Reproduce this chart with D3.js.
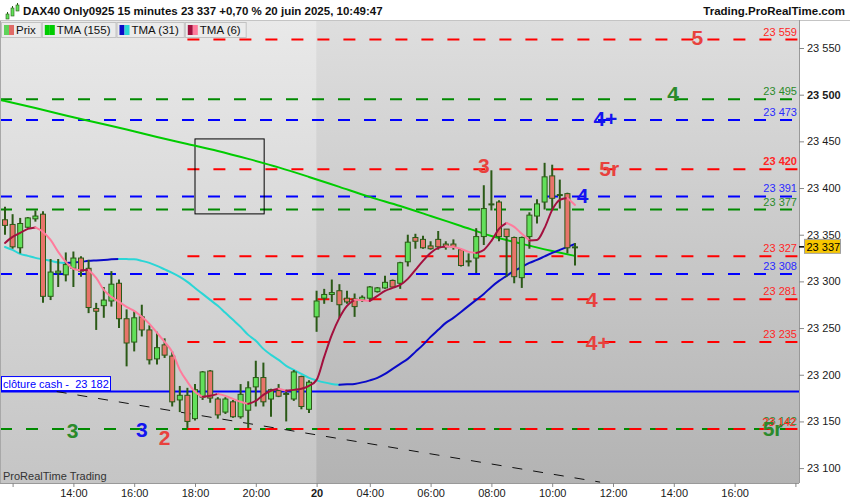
<!DOCTYPE html>
<html>
<head>
<meta charset="utf-8">
<script src="https://cdnjs.cloudflare.com/ajax/libs/d3/7.8.5/d3.min.js"></script>
<style>
  body { margin: 0; background: #fff; }
  svg { display: block; font-family: Arial, "Liberation Sans", sans-serif; }
</style>
</head>
<body>
<svg id="chart" width="850" height="500"></svg>
<script>
// DAX40 15 min candles, bar 0 = 19 juin 11:45, bar 41 = first bar of 20 juin

let opens = [23366, 23361, 23336, 23358, 23367, 23372, 23284, 23309, 23307, 23314,
  23325, 23314, 23271, 23274, 23279, 23298, 23260, 23235, 23262, 23248,
  23217, 23232, 23220, 23173, 23178, 23153, 23176, 23204, 23174, 23160,
  23171, 23155, 23162, 23187, 23197, 23174, 23183, 23180, 23174, 23198,
  23163, 23262, 23282, 23286, 23290, 23282, 23281, 23280, 23282, 23289,
  23293, 23301, 23298, 23321, 23347, 23345, 23338, 23345, 23340, 23340,
  23334, 23322, 23325, 23348, 23383, 23385, 23356, 23347, 23304, 23348,
  23370, 23385, 23413, 23393, 23394, 23337]
let highs = [23380, 23372, 23368, 23369, 23376, 23375, 23324, 23324, 23331, 23332,
  23327, 23323, 23277, 23294, 23311, 23302, 23270, 23268, 23275, 23253,
  23246, 23239, 23225, 23188, 23186, 23190, 23204, 23205, 23176, 23176,
  23173, 23190, 23193, 23215, 23213, 23185, 23190, 23184, 23205, 23199,
  23194, 23290, 23292, 23302, 23297, 23290, 23287, 23285, 23295, 23294,
  23306, 23302, 23321, 23350, 23351, 23349, 23343, 23354, 23343, 23345,
  23335, 23330, 23357, 23403, 23419, 23387, 23356, 23348, 23348, 23374,
  23388, 23427, 23425, 23409, 23395, 23341]
let lows = [23350, 23335, 23330, 23357, 23364, 23277, 23280, 23294, 23300, 23294,
  23305, 23266, 23248, 23261, 23273, 23250, 23209, 23225, 23241, 23211,
  23211, 23218, 23166, 23160, 23143, 23151, 23173, 23170, 23153, 23158,
  23154, 23153, 23143, 23166, 23166, 23155, 23176, 23150, 23172, 23163,
  23159, 23246, 23276, 23278, 23261, 23276, 23262, 23278, 23280, 23288,
  23292, 23293, 23292, 23316, 23335, 23335, 23334, 23334, 23334, 23334,
  23316, 23316, 23309, 23339, 23376, 23343, 23305, 23298, 23293, 23335,
  23362, 23377, 23377, 23378, 23330, 23317]
let closes = [23360, 23337, 23362, 23368, 23370, 23284, 23310, 23311, 23318, 23325,
  23311, 23272, 23268, 23280, 23297, 23260, 23234, 23261, 23248, 23216,
  23229, 23221, 23171, 23178, 23150, 23184, 23203, 23175, 23157, 23174,
  23155, 23179, 23186, 23197, 23171, 23184, 23177, 23179, 23203, 23166,
  23192, 23279, 23286, 23288, 23275, 23278, 23273, 23283, 23294, 23293,
  23299, 23294, 23320, 23342, 23343, 23336, 23335, 23337, 23337, 23337,
  23317, 23321, 23348, 23378, 23382, 23348, 23348, 23305, 23347, 23371,
  23383, 23412, 23389, 23393, 23336, 23337]

// moving averages, one value per bar
let tma6 = [23341.2, 23347.6, 23351.9, 23356.2, 23357.8, 23353.0, 23344.4, 23331.6, 23320.9, 23313.4,
  23311.8, 23312.3, 23303.7, 23290.9, 23283.4, 23278.0, 23272.7, 23268.4, 23262.0, 23254.5,
  23244.9, 23235.2, 23224.5, 23205.2, 23192.4, 23181.7, 23176.3, 23177.4, 23179.5, 23177.4,
  23174.2, 23171.0, 23168.8, 23172.1, 23178.5, 23182.8, 23184.9, 23182.8, 23183.8, 23184.9,
  23188.1, 23194.5, 23219.2, 23242.7, 23260.9, 23273.8, 23280.2, 23279.7, 23279.1, 23284.5,
  23289.8, 23293.0, 23296.2, 23302.7, 23312.3, 23322.0, 23330.5, 23335.9, 23337.5, 23336.9,
  23334.8, 23331.6, 23330.5, 23333.7, 23343.4, 23356.2, 23362.6, 23358.4, 23350.9, 23343.9,
  23344.4, 23357.3, 23376.6, 23387.3, 23389.4, 23381.9]
let tma31 = [23336.9, 23333.7, 23329.4, 23327.3, 23325.2, 23323.6, 23322.0, 23320.3, 23319.8, 23320.3,
  23320.9, 23322.0, 23322.5, 23323.0, 23323.6, 23324.1, 23323.9, 23323.6, 23322.0, 23319.8,
  23316.6, 23312.9, 23309.1, 23304.8, 23299.5, 23293.0, 23286.6, 23280.2, 23273.8, 23266.3,
  23258.8, 23251.3, 23242.7, 23236.3, 23227.7, 23221.3, 23215.9, 23209.5, 23205.2, 23200.9,
  23196.7, 23194.0, 23191.8, 23190.2, 23189.2, 23189.7, 23190.2, 23191.8, 23194.0, 23196.7,
  23200.9, 23206.3, 23211.7, 23217.0, 23224.5, 23232.0, 23240.6, 23248.1, 23255.6, 23260.9,
  23267.3, 23273.8, 23280.2, 23286.6, 23294.1, 23300.5, 23305.9, 23311.3, 23315.5, 23319.8,
  23323.0, 23326.8, 23330.5, 23333.7, 23336.9, 23340.1]
// TMA 155 read every 4 bars
let tma155Bars = [0, 4, 8, 12, 16, 20, 24, 28, 32, 36, 40, 44, 48, 52, 56, 60, 64, 68, 72, 75]
let tma155 = [23493.3, 23485.8, 23477.7, 23470.2, 23462.7, 23454.7, 23447.2, 23439.7, 23431.2, 23422.1,
  23411.9, 23401.2, 23390.5, 23380.8, 23370.1, 23359.4, 23348.7, 23340.2, 23332.6, 23327.3]

// horizontal levels (r = red, g = green, b = blue)
let levelPrices = [23559, 23495, 23473, 23420, 23391, 23377, 23327, 23308, 23281, 23235, 23142, 23142]
let levelKinds = ['r', 'g', 'b', 'r', 'b', 'g', 'r', 'b', 'r', 'r', 'g', 'r']
let redFromBar = 24

// big level tags
let tagTexts = ['5', '4', '4+', '5r', '3', '4', '4', '4+', '3', '3', '2', '5r']
let tagKinds = ['r', 'g', 'b', 'r', 'r', 'b', 'r', 'r', 'g', 'b', 'r', 'g']
let tagBars = [91.1, 87.9, 79.0, 79.5, 63.0, 76.0, 77.2, 78.0, 8.9, 18.0, 21.0, 101.0]
let tagPrices = [23561, 23501, 23475, 23421, 23424, 23392, 23281, 23235, 23140, 23141, 23133, 23143]

let cashClose = 23182
let lastPrice = 23337
let trendBars = [6.8, 78.3]
let trendPrices = [23182, 23085]
let boxBars = [25, 34.1]
let boxPrices = [23452.6, 23372.3]

let sessionStartBar = 41
let xTickBars = [1, 9, 17, 25, 33, 41, 48, 56, 64, 72, 80, 88, 96, 104]
let xTickLabels = ['', '14:00', '16:00', '18:00', '20:00', '20', '04:00', '06:00', '08:00', '10:00', '12:00', '14:00', '16:00', '']
let yTicks = [23100, 23150, 23200, 23250, 23300, 23350, 23400, 23450, 23500, 23550]

// layout
let W = 850, H = 500
let plot = { left: 0, right: 799, top: 20, bottom: 483 }
let colors = {
  r: '#ff0000', g: '#008a00', b: '#0000ff',
  tag: { r: '#e8413d', g: '#2b8a2b', b: '#1414f0' },
  val: { r: '#ff2626', g: '#2b8a2b', b: '#2a2aff' }
}

let x = d3.scaleLinear().domain([0, 104]).range([5, 5 + 104 * 7.6])
let y = d3.scaleLinear().domain([23100, 23550]).range([468.1, 48])

let svg = d3.select('#chart')
let defs = svg.append('defs')

function grad(id, top, bottom) {
  let g = defs.append('linearGradient').attr('id', id)
    .attr('x1', 0).attr('y1', 0).attr('x2', 0).attr('y2', 1)
  g.append('stop').attr('offset', '0%').attr('stop-color', top)
  g.append('stop').attr('offset', '100%').attr('stop-color', bottom)
}
grad('bgOld', '#e9e9e9', '#c5c5c5')
grad('bgNew', '#dedede', '#b3b3b3')

defs.append('clipPath').attr('id', 'plotClip')
  .append('rect')
  .attr('x', plot.left).attr('y', plot.top)
  .attr('width', plot.right - plot.left).attr('height', plot.bottom - plot.top)

// backgrounds
let split = x(sessionStartBar) - 0.5
svg.append('rect').attr('x', plot.left).attr('y', plot.top)
  .attr('width', split - plot.left).attr('height', plot.bottom - plot.top)
  .attr('fill', 'url(#bgOld)')
svg.append('rect').attr('x', split).attr('y', plot.top)
  .attr('width', plot.right - split).attr('height', plot.bottom - plot.top)
  .attr('fill', 'url(#bgNew)')

let g = svg.append('g').attr('clip-path', 'url(#plotClip)')

// levels
let levels = levelPrices.map((p, i) => ({ price: p, kind: levelKinds[i] }))
g.selectAll('line.level')
  .data(levels)
  .join('line')
  .attr('class', 'level')
  .attr('x1', d => d.kind === 'r' ? x(redFromBar) : plot.left)
  .attr('x2', plot.right)
  .attr('y1', d => y(d.price))
  .attr('y2', d => y(d.price))
  .attr('stroke', d => colors[d.kind])
  .attr('stroke-width', 2)
  .attr('stroke-dasharray', '12,14')

// cash close line
g.append('line')
  .attr('x1', plot.left).attr('x2', plot.right)
  .attr('y1', y(cashClose)).attr('y2', y(cashClose))
  .attr('stroke', '#0000ff').attr('stroke-width', 2)

// trend line
g.append('line')
  .attr('x1', x(trendBars[0])).attr('y1', y(trendPrices[0]))
  .attr('x2', x(trendBars[1])).attr('y2', y(trendPrices[1]))
  .attr('stroke', '#111').attr('stroke-width', 1)
  .attr('stroke-dasharray', '10,11')

// drawn rectangle
g.append('rect')
  .attr('x', x(boxBars[0])).attr('y', y(boxPrices[0]))
  .attr('width', x(boxBars[1]) - x(boxBars[0]))
  .attr('height', y(boxPrices[1]) - y(boxPrices[0]))
  .attr('fill', 'none').attr('stroke', '#000').attr('stroke-width', 1)

// two-colour moving averages: dark when rising, light when falling
function drawTwoTone(values, upColor, downColor) {
  let runs = []
  for (let i = 1; i < values.length; i++) {
    let up = values[i] >= values[i - 1]
    let last = runs[runs.length - 1]
    if (last && last.up === up) last.pts.push(i)
    else runs.push({ up: up, pts: [i - 1, i] })
  }
  let line = d3.line().x(i => x(i)).y(i => y(values[i])).curve(d3.curveMonotoneX)
  g.selectAll(null)
    .data(runs)
    .join('path')
    .attr('d', d => line(d.pts))
    .attr('fill', 'none')
    .attr('stroke', d => d.up ? upColor : downColor)
    .attr('stroke-width', 2)
    .attr('stroke-linecap', 'round')
}

g.append('path')
  .attr('d', d3.line().x((b, i) => x(b)).y((b, i) => y(tma155[i])).curve(d3.curveMonotoneX)(tma155Bars))
  .attr('fill', 'none')
  .attr('stroke', '#00cc00')
  .attr('stroke-width', 2)
// extend green to the left edge
g.append('line')
  .attr('x1', plot.left).attr('y1', y(tma155[0]) - 1)
  .attr('x2', x(0)).attr('y2', y(tma155[0]))
  .attr('stroke', '#00cc00').attr('stroke-width', 2)

drawTwoTone(tma31, '#0a0ac8', '#2ad6d6')

// candles
let bars = opens.map((o, i) => ({ i: i, o: o, h: highs[i], l: lows[i], c: closes[i] }))
let candle = g.selectAll('g.candle')
  .data(bars)
  .join('g')
  .attr('class', 'candle')
candle.append('line')
  .attr('x1', d => x(d.i)).attr('x2', d => x(d.i))
  .attr('y1', d => y(d.h)).attr('y2', d => y(d.l))
  .attr('stroke', '#2b5a17').attr('stroke-width', 2)
candle.append('rect')
  .attr('x', d => x(d.i) - 2.5)
  .attr('width', 5)
  .attr('y', d => y(Math.max(d.o, d.c)))
  .attr('height', d => Math.max(1, Math.abs(y(d.o) - y(d.c))))
  .attr('fill', d => d.c >= d.o ? '#62e05a' : '#e8746a')
  .attr('stroke', '#2b5a17')
  .attr('stroke-width', 1)

drawTwoTone(tma6, '#a3103e', '#ff7b9c')

// level value labels
let valueLabels = levels.map((d, i) => ({ price: d.price, kind: d.kind, i: i }))
g.selectAll('text.value')
  .data(valueLabels)
  .join('text')
  .attr('class', 'value')
  .attr('x', d => d.i === levels.length - 1 ? plot.right - 3 : plot.right - 2)
  .attr('y', d => y(d.price) - 4 + (d.i === levels.length - 1 ? 1 : 0))
  .attr('text-anchor', 'end')
  .attr('font-size', 11)
  .attr('font-weight', d => d.price === 23420 ? 'bold' : 'normal')
  .attr('fill', d => colors.val[d.kind])
  .text(d => fmt(d.price))

// big tags
let tags = tagTexts.map((t, i) => ({ text: t, kind: tagKinds[i], bar: tagBars[i], price: tagPrices[i] }))
g.selectAll('text.tag')
  .data(tags)
  .join('text')
  .attr('class', 'tag')
  .attr('x', d => x(d.bar))
  .attr('y', d => y(d.price))
  .attr('dy', '0.36em')
  .attr('text-anchor', 'middle')
  .attr('font-size', 21)
  .attr('font-weight', 'bold')
  .attr('fill', d => colors.tag[d.kind])
  .text(d => d.text)

// cash close box
let cashY = y(cashClose)
svg.append('rect')
  .attr('x', 1.5).attr('y', cashY - 15)
  .attr('width', 109).attr('height', 14)
  .attr('fill', '#fff').attr('stroke', '#0000ff').attr('stroke-width', 1)
svg.append('text')
  .attr('x', 3).attr('y', cashY - 4)
  .attr('font-size', 11).attr('fill', '#0000ff')
  .style('white-space', 'pre')
  .text('clôture cash -  ' + fmt(cashClose))

svg.append('text')
  .attr('x', 3).attr('y', 480)
  .attr('font-size', 11).attr('fill', '#333')
  .text('ProRealTime Trading')

// frame
svg.append('line').attr('x1', 0.5).attr('x2', 0.5).attr('y1', plot.top).attr('y2', plot.bottom)
  .attr('stroke', '#a8a8a8')
svg.append('line').attr('x1', 0).attr('x2', W).attr('y1', plot.top + 0.5).attr('y2', plot.top + 0.5)
  .attr('stroke', '#c4c4c4')

// right axis
function fmt(v) {
  return Math.floor(v / 1000) + ' ' + String(v % 1000).padStart(3, '0')
}
let yAxis = svg.append('g')
  .attr('transform', `translate(${plot.right},0)`)
  .call(d3.axisRight(y).tickValues(yTicks).tickSize(5).tickPadding(3).tickFormat(fmt))
yAxis.select('.domain').attr('stroke', '#999').attr('d', `M0.5,${plot.top}V${plot.bottom}`)
yAxis.selectAll('.tick line').attr('stroke', '#888')
yAxis.selectAll('.tick text')
  .attr('font-size', 11)
  .attr('font-family', 'Arial, "Liberation Sans", sans-serif')
  .attr('fill', '#1a1a1a')
  .attr('font-weight', d => d % 500 === 0 ? 'bold' : 'normal')

// last price tag
let lastY = y(lastPrice)
svg.append('line').attr('x1', plot.right).attr('x2', plot.right + 5)
  .attr('y1', lastY).attr('y2', lastY).attr('stroke', '#000').attr('stroke-width', 1.5)
svg.append('rect')
  .attr('x', plot.right + 5.5).attr('y', lastY - 7.5)
  .attr('width', 36).attr('height', 14)
  .attr('fill', '#f7c600').attr('stroke', '#a0a0a0')
svg.append('text')
  .attr('x', plot.right + 7.5).attr('y', lastY + 4)
  .attr('font-size', 11).attr('fill', '#000')
  .text(fmt(lastPrice))

// bottom axis
let xAxis = svg.append('g')
  .attr('transform', `translate(0,${plot.bottom})`)
  .call(d3.axisBottom(x).tickValues(xTickBars).tickSize(4).tickPadding(2)
    .tickFormat((d, i) => xTickLabels[i]))
xAxis.select('.domain').attr('stroke', '#999').attr('d', `M0,0.5H${plot.right}`)
xAxis.selectAll('.tick line').attr('stroke', '#888')
xAxis.selectAll('.tick text')
  .attr('font-size', 11)
  .attr('font-family', 'Arial, "Liberation Sans", sans-serif')
  .attr('fill', '#1a1a1a')
  .attr('font-weight', (d, i) => xTickLabels[i] === '20' ? 'bold' : 'normal')

// header
svg.append('rect').attr('x', 0).attr('y', 0).attr('width', W).attr('height', plot.top)
  .attr('fill', '#fff')
let icon = svg.append('g').attr('transform', 'translate(5,3)')
let iconBars = [[1, 9, 14, 11, 5], [6, 3, 12, 5, 8], [11, 0, 8, 2, 6]]
iconBars.forEach(b => {
  icon.append('line').attr('x1', b[0] + 1.5).attr('x2', b[0] + 1.5).attr('y1', b[1]).attr('y2', b[2])
    .attr('stroke', '#2b5a17').attr('stroke-width', 1)
  icon.append('rect').attr('x', b[0]).attr('y', b[3]).attr('width', 3).attr('height', b[4])
    .attr('fill', '#62e05a').attr('stroke', '#2b5a17').attr('stroke-width', 0.6)
})
svg.append('text')
  .attr('x', 23).attr('y', 15)
  .attr('font-size', 11.5).attr('font-weight', 'bold').attr('fill', '#111')
  .text('DAX40 Only0925 15 minutes 23 337 +0,70 % 20 juin 2025, 10:49:47')
svg.append('text')
  .attr('x', 845).attr('y', 15)
  .attr('text-anchor', 'end')
  .attr('font-size', 11.5).attr('font-weight', 'bold').attr('fill', '#111')
  .text('Trading.ProRealTime.com')

// legend
let legendNames = ['Prix', 'TMA (155)', 'TMA (31)', 'TMA (6)']
let legendSwatches = [['#5fd35a', '#e06a66'], ['#00cc00', '#00cc00'], ['#0a0ac8', '#2ad6d6'], ['#a3103e', '#ff7b9c']]
let lx = 1
legendNames.forEach((name, i) => {
  let lg = svg.append('g').attr('transform', `translate(${lx},22)`)
  let txt = lg.append('text').attr('x', 15).attr('y', 12)
    .attr('font-size', 11.5).attr('fill', '#111').text(name)
  let w = txt.node().getComputedTextLength() + 20
  lg.insert('rect', 'text').attr('x', 0.5).attr('y', 0.5).attr('width', w).attr('height', 15)
    .attr('fill', '#ebebeb').attr('stroke', '#c2c2c2')
  lg.append('rect').attr('x', 3).attr('y', 3).attr('width', 5).attr('height', 10).attr('fill', legendSwatches[i][0])
  lg.append('rect').attr('x', 8).attr('y', 3).attr('width', 5).attr('height', 10).attr('fill', legendSwatches[i][1])
  lx += w + 1
})
</script>
</body>
</html>
